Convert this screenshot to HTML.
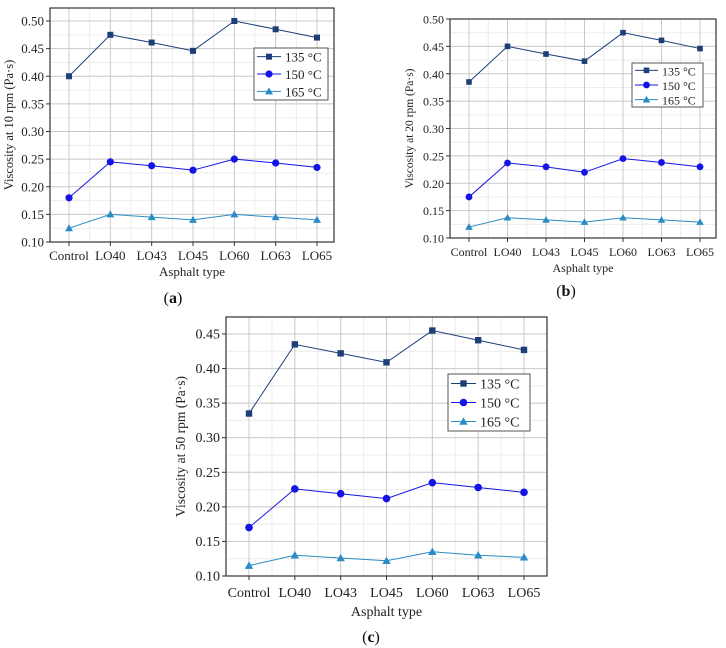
<!DOCTYPE html>
<html><head><meta charset="utf-8"><style>
html,body{margin:0;padding:0;background:#fff;}
svg{display:block;font-family:"Liberation Serif",serif;}
</style></head><body>
<svg id="fig" width="726" height="648" viewBox="0 0 726 648"></svg>
<script>
const categories = ["Control","LO40","LO43","LO45","LO60","LO63","LO65"];
const a135 = [0.400,0.475,0.461,0.446,0.500,0.485,0.470];
const a150 = [0.180,0.245,0.238,0.230,0.250,0.243,0.235];
const a165 = [0.125,0.150,0.145,0.140,0.150,0.145,0.140];
const b135 = [0.385,0.450,0.436,0.423,0.475,0.461,0.446];
const b150 = [0.175,0.237,0.230,0.220,0.245,0.238,0.230];
const b165 = [0.120,0.137,0.133,0.129,0.137,0.133,0.129];
const c135 = [0.335,0.435,0.422,0.409,0.455,0.441,0.427];
const c150 = [0.170,0.226,0.219,0.212,0.235,0.228,0.221];
const c165 = [0.115,0.130,0.126,0.122,0.135,0.130,0.127];
const aTicks = [0.10,0.15,0.20,0.25,0.30,0.35,0.40,0.45,0.50];
const bTicks = [0.10,0.15,0.20,0.25,0.30,0.35,0.40,0.45,0.50];
const cTicks = [0.10,0.15,0.20,0.25,0.30,0.35,0.40,0.45];
const seriesNames = ["135 °C","150 °C","165 °C"];
const colors = ["#1d3f78","#1414e6","#2a8cc4"];
const NS = "http://www.w3.org/2000/svg";
const svg = document.getElementById("fig");
function el(tag, attrs, parent){const e=document.createElementNS(NS,tag);for(const k in attrs)e.setAttribute(k,attrs[k]);(parent||svg).appendChild(e);return e;}

function panel(id, cfg, s1, s2, s3, ticks){
  const g = el("g",{});
  
  
  const y = v => cfg.y0 + (v-0.10)/(cfg.v1-0.10)*(cfg.y1-cfg.y0);
  const x = i => cfg.cx0 + i*(cfg.cx1-cfg.cx0)/(categories.length-1);
  for(let v=0.125; v<cfg.vtop; v+=0.05){
    const l=el("line",{x1:cfg.left,x2:cfg.right,y1:y(v),y2:y(v),stroke:"#ececec","stroke-width":1},g);
    
    
  }
  for(let i=0;i<categories.length-1;i++){
    const xm=(x(i)+x(i+1))/2;
    const l=el("line",{x1:xm,x2:xm,y1:cfg.top,y2:cfg.y0,stroke:"#ececec","stroke-width":1},g);
    
    
  }
  ticks.forEach(t=>{
    const l=el("line",{x1:cfg.left,x2:cfg.right,y1:y(t),y2:y(t),stroke:"#c8c8c8","stroke-width":1},g);
    
    
    const tk=el("line",{x1:cfg.left-4,x2:cfg.left,y1:y(t),y2:y(t),stroke:"#333"},g);
    
    
    const tx=el("text",{x:cfg.left-6,y:y(t)+4.5,"text-anchor":"end","font-size":cfg.fs,fill:"#222"},g);
    tx.textContent=t.toFixed(2);
    
    
  });
  categories.forEach((c,i)=>{
    const l=el("line",{x1:x(i),x2:x(i),y1:cfg.top,y2:cfg.y0,stroke:"#c8c8c8"},g);
    
    
    const tk=el("line",{x1:x(i),x2:x(i),y1:cfg.y0,y2:cfg.y0+4,stroke:"#333"},g);
    
    
    const tx=el("text",{x:x(i),y:cfg.xly,"text-anchor":"middle","font-size":cfg.fs,fill:"#222"},g);
    tx.textContent=c;
    
    
  });
  const box=el("rect",{x:cfg.left,y:cfg.top,width:cfg.right-cfg.left,height:cfg.y0-cfg.top,fill:"none",stroke:"#333","stroke-width":1.2},g);
  
  
  [s1,s2,s3].forEach((s,k)=>{
    const pts=s.map((v,i)=>x(i)+","+y(v)).join(" ");
    const pl=el("polyline",{points:pts,fill:"none",stroke:colors[k],"stroke-width":1},g);
    
    
    s.forEach((v,i)=>{
      const m=marker(k,x(i),y(v),cfg.ms,g);
      
      
    });
  });
  const L=cfg.leg;
  const lb=el("rect",{x:L.x,y:L.y,width:L.w,height:L.h,fill:"#fff",stroke:"#555"},g);
  
  
  seriesNames.forEach((n,k)=>{
    const yy=L.y+L.h*(k+0.5)/3;
    const ln=el("line",{x1:L.x+3,x2:L.x+L.lw,y1:yy,y2:yy,stroke:colors[k]},g);
    
    
    const m=marker(k,L.x+3+(L.lw-3)/2,yy,cfg.ms,g);
    
    
    const t=el("text",{x:L.x+L.lw+4,y:yy+5,"font-size":cfg.lfs,fill:"#222"},g);
    t.textContent=n;
    
    
  });
  const xt=el("text",{x:(cfg.left+cfg.right)/2,y:cfg.xty,"text-anchor":"middle","font-size":cfg.fs,fill:"#222"},g);
  xt.textContent="Asphalt type";
  
  
  const ym=(cfg.top+cfg.y0)/2;
  const yt=el("text",{x:cfg.ytx,y:ym,"text-anchor":"middle","font-size":cfg.yfs,fill:"#222",transform:`rotate(-90 ${cfg.ytx} ${ym})`},g);
  yt.textContent=cfg.ytitle;
  
  
  const cap=el("text",{x:cfg.capx,y:cfg.capy,"text-anchor":"middle","font-size":16,fill:"#111"},g);
  cap.innerHTML='(<tspan font-weight="bold">'+id+'</tspan>)';
  
  
}
function marker(k,cx,cy,s,g){
  if(k===0) return el("rect",{x:cx-s,y:cy-s,width:2*s,height:2*s,fill:colors[0]},g);
  if(k===1) return el("circle",{cx:cx,cy:cy,r:s+0.6,fill:colors[1]},g);
  return el("polygon",{points:`${cx},${cy-s-1} ${cx-s-1},${cy+s} ${cx+s+1},${cy+s}`,fill:colors[2]},g);
}
panel("a",{left:50,right:334,top:8,y0:242,y1:21,v1:0.50,vtop:0.52,cx0:69,cx1:317,fs:13,lfs:13,yfs:12.5,ms:3,xly:260,xty:276,ytx:13,
  ytitle:"Viscosity at 10 rpm (Pa·s)",capx:173,capy:303,leg:{x:254,y:48,w:74,h:52,lw:27}},a135,a150,a165,aTicks);
panel("b",{left:450,right:716,top:19,y0:238,y1:19,v1:0.50,vtop:0.50,cx0:469,cx1:700,fs:12,lfs:12,yfs:11.5,ms:2.8,xly:256,xty:272,ytx:413,
  ytitle:"Viscosity at 20 rpm (Pa·s)",capx:566,capy:296,leg:{x:632,y:63,w:71,h:44,lw:26}},b135,b150,b165,bTicks);
panel("c",{left:226,right:547,top:317,y0:576,y1:334,v1:0.45,vtop:0.475,cx0:249,cx1:524,fs:14,lfs:14,yfs:13.5,ms:3.2,xly:597,xty:616,ytx:185,
  ytitle:"Viscosity at 50 rpm (Pa·s)",capx:371,capy:642,leg:{x:448,y:374,w:82,h:57,lw:28}},c135,c150,c165,cTicks);
</script>
</body></html>
